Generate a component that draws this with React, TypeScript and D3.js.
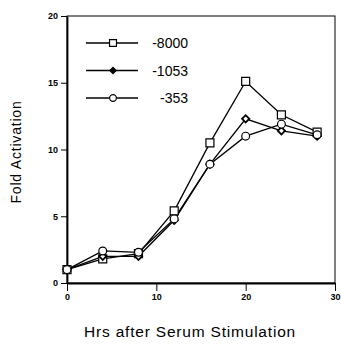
import { useEffect, useRef } from "react";
import * as d3 from "d3";

const hours = [0, 4, 8, 12, 16, 20, 24, 28];
const s8000 = [1.0, 1.8, 2.2, 5.4, 10.5, 15.1, 12.6, 11.3];
const s1053 = [1.0, 2.0, 2.0, 4.7, 8.9, 12.3, 11.4, 11.0];
const s353 = [1.0, 2.4, 2.3, 4.8, 8.9, 11.0, 11.9, 11.1];
const seriesNames = ["-8000", "-1053", "-353"];
const xTicks = [0, 10, 20, 30];
const yTicks = [0, 5, 10, 15, 20];

const App = () => {
  const ref = useRef<SVGSVGElement>(null);

  useEffect(() => {
    const width = 341;
    const height = 344;
    const svg = d3.select(ref.current).attr("width", width).attr("height", height);
    svg.selectAll("*").remove();

    const x = d3.scaleLinear().domain([0, 30]).range([67, 335]);
    const y = d3.scaleLinear().domain([0, 20]).range([283, 16]);

    const font = "Liberation Sans, Arial, sans-serif";

    // frame
    svg
      .append("rect")
      .attr("x", x(0))
      .attr("y", y(20))
      .attr("width", x(30) - x(0))
      .attr("height", y(0) - y(20))
      .attr("fill", "none")
      .attr("stroke", "#000")
      .attr("stroke-width", 1);

    // axes
    const yAxis = svg
      .append("g")
      .attr("transform", `translate(${x(0)},0)`)
      .call(d3.axisLeft(y).tickValues(yTicks).tickSize(6).tickSizeOuter(0).tickPadding(3));
    yAxis.select(".domain").attr("stroke-width", 1.8);
    yAxis.selectAll("text").attr("font-family", font).attr("font-size", 9).attr("font-weight", "bold");

    const xAxis = svg
      .append("g")
      .attr("transform", `translate(0,${y(0)})`)
      .call(d3.axisBottom(x).tickValues(xTicks).tickSize(8).tickSizeOuter(0).tickPadding(3));
    xAxis.select(".domain").attr("stroke-width", 1.8);
    xAxis.selectAll("text").attr("font-family", font).attr("font-size", 9).attr("font-weight", "bold");

    const line = d3
      .line<number>()
      .x((_, i) => x(hours[i]))
      .y((d) => y(d));

    const all = [s8000, s1053, s353];
    const shapes = [d3.symbolSquare, d3.symbolSquare, d3.symbolCircle];
    const sizes = [64, 26, 48];
    const rot = [0, 45, 0];

    all.forEach((vals) => {
      svg
        .append("path")
        .attr("d", line(vals))
        .attr("fill", "none")
        .attr("stroke", "#000")
        .attr("stroke-width", 1.3);
    });

    all.forEach((vals, k) => {
      svg
        .append("g")
        .selectAll("path")
        .data(vals)
        .join("path")
        .attr("transform", (d, i) => `translate(${x(hours[i])},${y(d)}) rotate(${rot[k]})`)
        .attr("d", d3.symbol().type(shapes[k]).size(sizes[k])())
        .attr("fill", "#fff")
        .attr("stroke", "#000")
        .attr("stroke-width", k === 1 ? 1.8 : 1.2);
    });

    // legend
    const leg = svg.append("g");
    seriesNames.forEach((name, k) => {
      const ly = 43 + k * 27.5;
      leg
        .append("line")
        .attr("x1", 86)
        .attr("x2", 138)
        .attr("y1", ly)
        .attr("y2", ly)
        .attr("stroke", "#000")
        .attr("stroke-width", 1.5);
      leg
        .append("path")
        .attr("transform", `translate(113,${ly}) rotate(${rot[k]})`)
        .attr("d", d3.symbol().type(shapes[k]).size(sizes[k] * 0.75)())
        .attr("fill", k === 1 ? "#000" : "#fff")
        .attr("stroke", "#000")
        .attr("stroke-width", 1.2);
      leg
        .append("text")
        .attr("x", 188)
        .attr("y", ly + 5)
        .attr("text-anchor", "end")
        .attr("font-family", font)
        .attr("font-size", 14)
        .text(name);
    });

    // titles
    svg
      .append("text")
      .attr("transform", `translate(21,152) rotate(-90)`)
      .attr("text-anchor", "middle")
      .attr("font-family", font)
      .attr("font-size", 14)
      .attr("letter-spacing", 0.8)
      .text("Fold Activation");

    svg
      .append("text")
      .attr("x", 190)
      .attr("y", 337)
      .attr("text-anchor", "middle")
      .attr("font-family", font)
      .attr("font-size", 15.5)
      .attr("letter-spacing", 0.8)
      .text("Hrs after Serum Stimulation");
  }, []);

  return <svg ref={ref} style={{ position: "absolute", left: 0, top: 0 }} />;
};

export default App;
